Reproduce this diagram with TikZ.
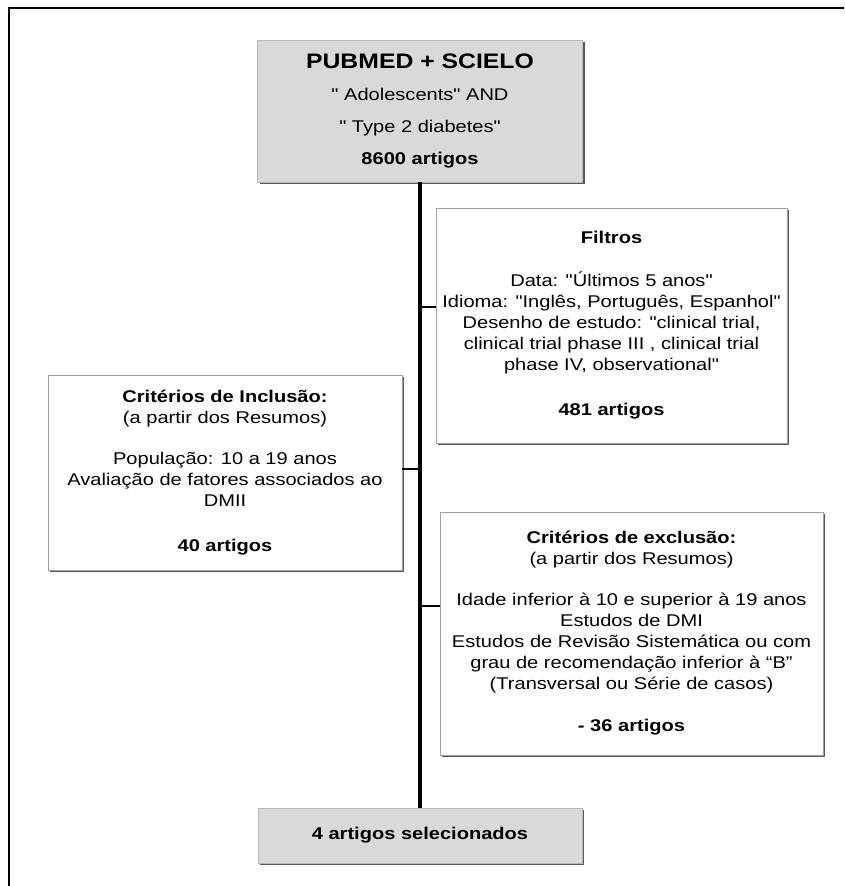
\documentclass[tikz,border=0pt]{standalone}
\usepackage{fontspec}
\setmainfont{Liberation Sans}[FakeStretch=1.18, Ligatures=TeXOff]
\usepackage{tikz}
\usetikzlibrary{positioning, shadows}
\usepackage{xcolor}
\definecolor{caixaCinza}{HTML}{D9D9D9}
\definecolor{bordaCinza}{HTML}{A0A0A0}
\definecolor{sombraCinza}{HTML}{5A5A5A}

\begin{document}
\begin{tikzpicture}[x=1pt, y=-1pt,
    font=\fontsize{17}{21}\selectfont,
    caixa/.style={
      rectangle, draw=bordaCinza, line width=0.8pt,
      fill=white, align=center, inner sep=0pt,
      drop shadow={shadow xshift=2pt, shadow yshift=-2pt,
        fill=sombraCinza, opacity=1}
    },
    destaque/.style={caixa, fill=caixaCinza, draw=caixaCinza!85!black},
    tronco/.style={line width=3.2pt, black},
    ramo/.style={line width=2pt, black}
  ]
  \useasboundingbox (0,0) rectangle (844,886);
  % Moldura da figura (cortada à direita e embaixo)
  \draw[line width=2.5pt] (9,886) -- (9,8) -- (844,8);

  % Busca inicial
  \node[destaque, minimum width=325pt, minimum height=142pt,
    font=\fontsize{17}{32}\selectfont] (busca) at (420,111)
    {{\fontsize{21}{32}\selectfont\bfseries PUBMED + SCIELO}\\
     " Adolescents" AND\\
     " Type 2 diabetes"\\
     {\bfseries 8600 artigos}};

  % Filtros aplicados
  \node[caixa, minimum width=351pt, minimum height=235pt] (filtros) at (611.5,325.5)
    {{\bfseries Filtros}\\[22pt]
     Data: "Últimos 5 anos"\\
     Idioma: "Inglês, Português, Espanhol"\\
     Desenho de estudo: "clinical trial,\\
     clinical trial phase III , clinical trial\\
     phase IV, observational"\\[24pt]
     {\bfseries 481 artigos}};

  % Critérios de inclusão
  \node[caixa, minimum width=354pt, minimum height=195pt] (inclusao) at (225,472.5)
    {{\bfseries Critérios de Inclusão:}\\
     (a partir dos Resumos)\\[20pt]
     População: 10 a 19 anos\\
     Avaliação de fatores associados ao\\
     DMII\\[24pt]
     {\bfseries 40 artigos}};

  % Critérios de exclusão
  \node[caixa, minimum width=383pt, minimum height=243pt] (exclusao) at (631.5,633.5)
    {{\bfseries Critérios de exclusão:}\\
     (a partir dos Resumos)\\[20pt]
     Idade inferior à 10 e superior à 19 anos\\
     Estudos de DMI\\
     Estudos de Revisão Sistemática ou com\\
     grau de recomendação inferior à “B”\\
     (Transversal ou Série de casos)\\[21pt]
     {\bfseries - 36 artigos}};

  % Resultado final
  \node[destaque, minimum width=324pt, minimum height=55pt] (final) at (420,835.5)
    {\bfseries 4 artigos selecionados};

  % Tronco e ramos
  \draw[tronco] (busca.south) -- (final.north);
  \coordinate (jF) at (420,307);
  \coordinate (jI) at (420,469);
  \coordinate (jE) at (420,606);
  \draw[ramo] (jF) -- (jF -| filtros.west);
  \draw[ramo] (jI) -- (jI -| inclusao.east);
  \draw[ramo] (jE) -- (jE -| exclusao.west);
\end{tikzpicture}
\end{document}
